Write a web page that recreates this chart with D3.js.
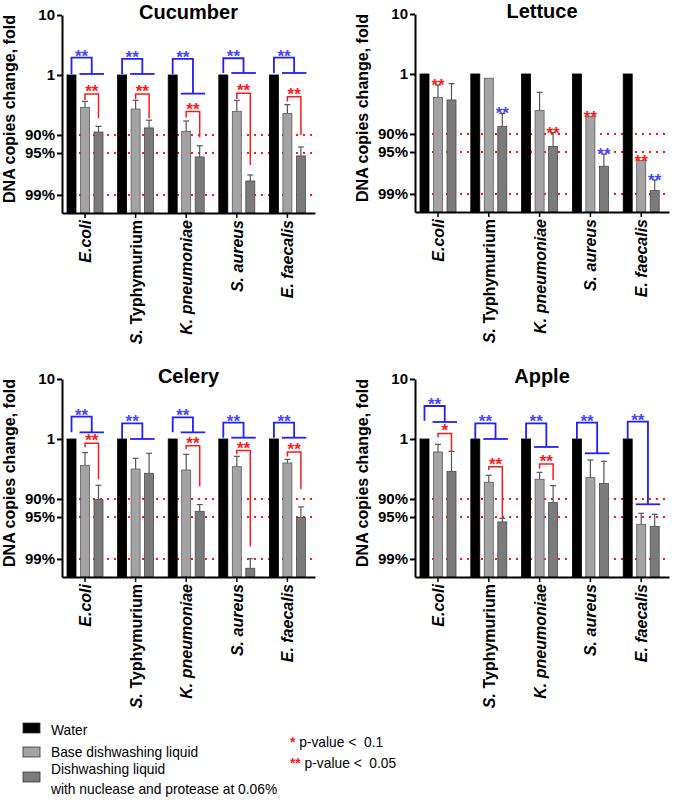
<!DOCTYPE html>
<html>
<head>
<meta charset="utf-8">
<script src="https://cdn.jsdelivr.net/npm/d3@7"></script>
<style>
body { margin: 0; background: #fff; }
svg { font-family: "Liberation Sans", Arial, sans-serif; }
</style>
</head>
<body>
<svg id="chart" width="673" height="800"></svg>
<script>
var groups = ["E.coli", "S. Typhymurium", "K. pneumoniae", "S. aureus", "E. faecalis"];
var series = ["Water", "Base dishwashing liquid", "Dishwashing liquid with nuclease and protease at 0.06%"];
var tickValues = [10, 1, 0.1, 0.05, 0.01];
var tickLabels = ["10", "1", "90%", "95%", "99%"];
var refValues = [0.1, 0.05, 0.01];

// fold change (water = 1), bar top and top of error bar
var cucumberBase = [0.289, 0.271, 0.115, 0.248, 0.227];
var cucumberBaseErr = [0.364, 0.378, 0.171, 0.378, 0.32];
var cucumberEnz = [0.112, 0.131, 0.043, 0.0171, 0.0447];
var cucumberEnzErr = [0.139, 0.176, 0.066, 0.0215, 0.063];

var lettuceBase = [0.408, 0.85, 0.245, 0.194, 0.036];
var lettuceBaseErr = [0.655, 0.85, 0.495, 0.194, 0.036];
var lettuceEnz = [0.369, 0.134, 0.0616, 0.029, 0.0114];
var lettuceEnzErr = [0.69, 0.22, 0.105, 0.046, 0.0171];

var celeryBase = [0.364, 0.316, 0.304, 0.346, 0.398];
var celeryBaseErr = [0.592, 0.476, 0.555, 0.514, 0.458];
var celeryEnz = [0.0975, 0.268, 0.0623, 0.00699, 0.0489];
var celeryEnzErr = [0.169, 0.577, 0.0805, 0.0101, 0.0736];

var appleBase = [0.607, 0.19, 0.213, 0.227, 0.0378];
var appleBaseErr = [0.815, 0.248, 0.278, 0.447, 0.0577];
var appleEnz = [0.289, 0.0414, 0.0869, 0.182, 0.035];
var appleEnzErr = [0.623, 0.0476, 0.167, 0.425, 0.0555];

// blue brackets (water vs liquids): [top, left leg end, right level]
var cucumberBlue = [[1.945, 1.04, 1.04], [1.85, 1.04, 1.04], [1.85, 1.04, 0.489], [1.9, 1.08, 1.08], [1.945, 1.08, 1.08]];
var celeryBlue = [[2.36, 1.29, 1.29], [1.82, 1, 1], [2.3, 1.29, 1.29], [1.87, 1.05, 1.05], [1.87, 1.05, 1.05]];
var appleBlue = [[3.55, 2.02, 1.92], [1.82, 1, 1], [1.82, 1, 0.736], [1.87, 1, 0.577], [1.94, 1, 0.0815]];

// red brackets (base vs enzyme): [top, left leg end, right leg end, label]
var cucumberRed = [[0.482, 0.383, 0.19, "**"], [0.482, 0.393, 0.19, "**"], [0.245, 0.195, 0.0903, "**"], [0.495, 0.398, 0.0316, "**"], [0.435, 0.36, 0.1, "**"]];
var celeryRed = [[0.847, 0.726, 0.213, "**"], null, [0.774, 0.673, 0.161, "**"], [0.64, 0.555, 0.0161, "**"], [0.607, 0.508, 0.145, "**"]];
var appleRed = [[1.24, 1.07, 0.623, "*"], [0.346, 0.304, 0.0508, "**"], [0.383, 0.32, 0.207, "**"], null, null];

// lettuce only has stars over single bars: 1 = base bar, 2 = enzyme bar
var lettuceRedStars = [1, null, 2, 1, 1];
var lettuceBlueStars = [null, 2, null, 2, 2];

var colors = ["#000000", "#a3a3a6", "#7b7b7b"];
var strokes = ["#000000", "#5a5a5a", "#4a4a4a"];
var blue = "#1f1fff", blueStar = "#4646ff", red = "#ff1a1a";

var svg = d3.select("#chart");

var panels = [
	{ title: "Cucumber", left: 62, right: 315, top: 15, base: cucumberBase, baseErr: cucumberBaseErr, enz: cucumberEnz, enzErr: cucumberEnzErr, blue: cucumberBlue, red: cucumberRed },
	{ title: "Lettuce", left: 415, right: 669, top: 14, base: lettuceBase, baseErr: lettuceBaseErr, enz: lettuceEnz, enzErr: lettuceEnzErr, redStars: lettuceRedStars, blueStars: lettuceBlueStars },
	{ title: "Celery", left: 62, right: 315, top: 379, base: celeryBase, baseErr: celeryBaseErr, enz: celeryEnz, enzErr: celeryEnzErr, blue: celeryBlue, red: celeryRed },
	{ title: "Apple", left: 415, right: 669, top: 379, base: appleBase, baseErr: appleBaseErr, enz: appleEnz, enzErr: appleEnzErr, blue: appleBlue, red: appleRed }
];

panels.forEach(drawPanel);

function stars(g, x, y, txt, fill) {
	g.append("text")
		.attr("x", x).attr("y", y)
		.attr("text-anchor", "middle")
		.attr("font-size", 17).attr("font-weight", "bold").attr("fill", fill)
		.text(txt);
}

function drawPanel(p) {
	var x0 = d3.scaleBand().domain(groups).range([p.left, p.right]);
	var x1 = d3.scaleBand().domain(series).range([5, 41]).paddingInner(0.333);
	var y = d3.scaleLog().domain([0.005, 10]).range([p.top + 198, p.top]);
	var bw = x1.bandwidth();
	var mid = function(grp) { return x0(grp) + x1(series[1]) + bw / 2; };
	var g = svg.append("g");

	// dotted reference lines behind bars
	refValues.forEach(function(v) {
		g.append("line")
			.attr("x1", x0(groups[0]) + x1(series[0]) + bw + 3)
			.attr("x2", p.right)
			.attr("y1", y(v)).attr("y2", y(v))
			.attr("stroke", red)
			.attr("stroke-width", 2)
			.attr("stroke-dasharray", "2,5");
	});

	groups.forEach(function(grp, i) {
		var vals = [1, p.base[i], p.enz[i]];
		var errs = [null, p.baseErr[i], p.enzErr[i]];
		var gx = x0(grp);
		vals.forEach(function(v, j) {
			var bx = gx + x1(series[j]);
			if (errs[j] != null && errs[j] > v) {
				var cx = bx + bw / 2;
				g.append("line").attr("x1", cx).attr("x2", cx).attr("y1", y(v)).attr("y2", y(errs[j]))
					.attr("stroke", "#555").attr("stroke-width", 1.2);
				g.append("line").attr("x1", cx - 3).attr("x2", cx + 3).attr("y1", y(errs[j])).attr("y2", y(errs[j]))
					.attr("stroke", "#555").attr("stroke-width", 1.2);
			}
			g.append("rect")
				.attr("x", bx).attr("y", y(v))
				.attr("width", bw).attr("height", y(0.005) - y(v))
				.attr("fill", colors[j])
				.attr("stroke", strokes[j])
				.attr("stroke-width", 0.8);
		});

		var cW = gx + x1(series[0]) + bw / 2;
		var cB = gx + x1(series[1]) + bw / 2;
		var cE = gx + x1(series[2]) + bw / 2;

		if (p.blue && p.blue[i]) {
			var b = p.blue[i];
			var xr = (gx + x1(series[1]) + bw + gx + x1(series[2])) / 2;
			g.append("path")
				.attr("d", "M" + cW + "," + y(b[1]) + "V" + y(b[0]) + "H" + xr + "V" + y(b[2]))
				.attr("fill", "none").attr("stroke", blue).attr("stroke-width", 1.8);
			g.append("line")
				.attr("x1", gx + x1(series[1]) - 1).attr("x2", gx + x1(series[2]) + bw + 1)
				.attr("y1", y(b[2])).attr("y2", y(b[2]))
				.attr("stroke", blue).attr("stroke-width", 1.8);
			stars(g, (cW + xr) / 2, y(b[0]) + 4, "**", blueStar);
		}
		if (p.red && p.red[i]) {
			var r = p.red[i];
			g.append("path")
				.attr("d", "M" + cB + "," + y(r[1]) + "V" + y(r[0]) + "H" + cE + "V" + y(r[2]))
				.attr("fill", "none").attr("stroke", red).attr("stroke-width", 1.5);
			stars(g, (cB + cE) / 2, y(r[0]) + 3, r[3], red);
		}
		if (p.redStars && p.redStars[i]) {
			var k = p.redStars[i];
			stars(g, gx + x1(series[k]) + bw / 2, y(errs[k]) + 6, "**", red);
		}
		if (p.blueStars && p.blueStars[i]) {
			var k2 = p.blueStars[i];
			stars(g, gx + x1(series[k2]) + bw / 2, y(errs[k2]) + 6, "**", blueStar);
		}
	});

	// y axis
	var ya = g.append("g")
		.attr("transform", "translate(" + p.left + ",0)")
		.call(d3.axisLeft(y).tickValues(tickValues).tickFormat(function(d, i) { return tickLabels[i]; }).tickSize(5).tickSizeOuter(0));
	ya.select(".domain").attr("stroke-width", 2);
	ya.selectAll(".tick line").attr("stroke-width", 2);
	ya.selectAll(".tick text").attr("font-size", 15).attr("font-weight", "bold").attr("fill", "#000")
		.attr("font-family", "Liberation Sans, Arial, sans-serif").attr("x", -7);

	// x axis, ticks sit on the middle bar of each group
	var xa = g.append("g")
		.attr("transform", "translate(0," + y(0.005) + ")")
		.call(d3.axisBottom(x0).tickSize(5).tickSizeOuter(0).tickFormat(""));
	xa.select(".domain").attr("stroke-width", 2);
	xa.selectAll(".tick")
		.attr("transform", function(d) { return "translate(" + mid(d) + ",0)"; });
	xa.selectAll(".tick line").attr("stroke-width", 1.5);

	groups.forEach(function(grp) {
		var t = g.append("text")
			.attr("transform", "translate(" + (mid(grp) + 6) + "," + (y(0.005) + 7) + ") rotate(-90)")
			.attr("text-anchor", "end")
			.attr("font-size", 16)
			.attr("font-weight", "bold");
		grp.split(" ").forEach(function(w, wi) {
			t.append("tspan")
				.attr("font-style", w === "Typhymurium" ? "normal" : "italic")
				.text((wi > 0 ? " " : "") + w);
		});
	});

	g.append("text")
		.attr("x", (p.left + p.right) / 2).attr("y", p.top + 4)
		.attr("text-anchor", "middle")
		.attr("font-size", 20).attr("font-weight", "bold")
		.text(p.title);

	g.append("text")
		.attr("transform", "translate(" + (p.left - 47) + "," + (p.top + 94) + ") rotate(-90)")
		.attr("text-anchor", "middle")
		.attr("font-size", 16).attr("font-weight", "bold")
		.text("DNA copies change, fold");
}

// legend (narrow lettering, as in the figure)
var legend = svg.append("g").attr("font-size", 15);
var legY = [723, 747, 772];
series.forEach(function(s, i) {
	legend.append("rect").attr("x", 23).attr("y", legY[i]).attr("width", 17).attr("height", 10)
		.attr("fill", colors[i]).attr("stroke", "#333").attr("stroke-width", 0.8);
});
var legTexts = [[series[0], 735], [series[1], 757], ["Dishwashing liquid", 774], ["with nuclease and protease at 0.06%", 794]];
legTexts.forEach(function(d) {
	legend.append("text")
		.attr("transform", "translate(51," + d[1] + ") scale(0.92,1)")
		.text(d[0]);
});

var pLabels = [["*", "p-value <  0.1"], ["**", "p-value <  0.05"]];
pLabels.forEach(function(d, i) {
	var t = legend.append("text")
		.attr("transform", "translate(290," + (747 + i * 21) + ") scale(0.92,1)")
		.attr("xml:space", "preserve");
	t.append("tspan").attr("fill", red).attr("font-weight", "bold").text(d[0]);
	t.append("tspan").text(" " + d[1]);
});
</script>
</body>
</html>
